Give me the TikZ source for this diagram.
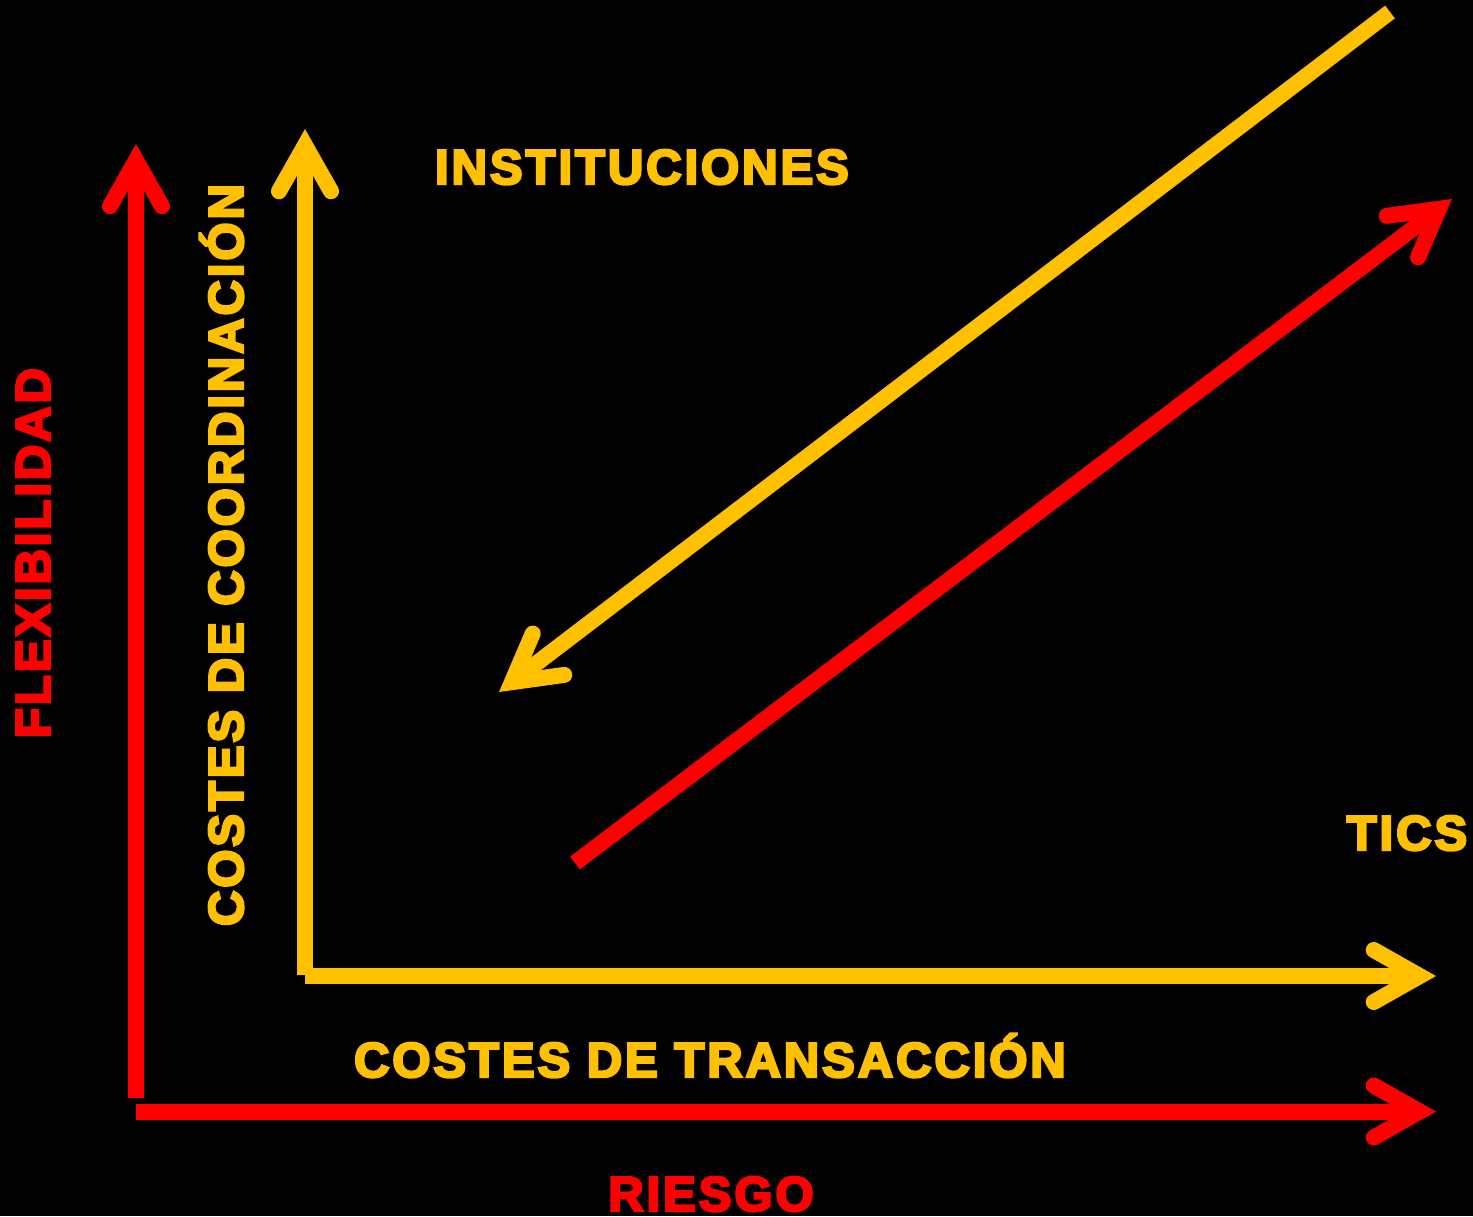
\documentclass[tikz,border=0pt]{standalone}
\usepackage{fontspec}
\setmainfont{Liberation Sans}
\newfontfamily\lblfont{Liberation Sans Bold}[LetterSpace=6,FakeBold=5]
\usepackage{xcolor}
\definecolor{rred}{HTML}{FF0000}
\definecolor{yyellow}{HTML}{FFC000}
\usepackage{tikz}
\usetikzlibrary{arrows.meta}

\begin{document}
\begin{tikzpicture}[
    	x=1pt, y=-1pt,
    	-->/.style={-{Straight Barb[length=46pt,width=52pt,line cap=round,line join=miter]},line width=16pt},
    	lbl/.style={inner sep=0pt, anchor=base, font=\lblfont\fontsize{49}{58}\selectfont},
    ]
    \path[use as bounding box, fill=black] (0,0) rectangle (1473,1216);
    % red axes
    \coordinate (r0) at (136,1098);
    \coordinate (r1) at (136,144);
    \coordinate (r2) at (136,1111.5);
    \coordinate (r3) at (1436,1111.5);
    % yellow axes
    \coordinate (y0) at (305,975);
    \coordinate (y1) at (305,129);
    \coordinate (y2) at (305,976);
    \coordinate (y3) at (1436,976);
    % diagonals
    \coordinate (ins0) at (1390,12);
    \coordinate (ins1) at (499,692);
    \coordinate (tic0) at (575,863);
    \coordinate (tic1) at (1452,199);
    \draw [rred, -->] (r0) -- (r1);
    \draw [rred, -->] (r2) -- (r3);
    \draw [yyellow, -->] (y0) -- (y1);
    \draw [yyellow, -->] (y2) -- (y3);
    \draw [yyellow, -->] (ins0) -- (ins1);
    \draw [rred, -->] (tic0) -- (tic1);
    \node[lbl, yyellow] (inst) at (642,184) {INSTITUCIONES};
    \node[lbl, yyellow] (tics) at (1407,850) {TICS};
    \node[lbl, yyellow] (ctrans) at (710,1077) {COSTES DE TRANSACCIÓN};
    \node[lbl, rred] (riesgo) at (711,1211) {RIESGO};
    \node[lbl, rred, rotate=90] (flex) at (50,553) {FLEXIBILIDAD};
    \node[lbl, yyellow, rotate=90] (ccoord) at (243,555) {COSTES DE COORDINACIÓN};
\end{tikzpicture}
\end{document}
